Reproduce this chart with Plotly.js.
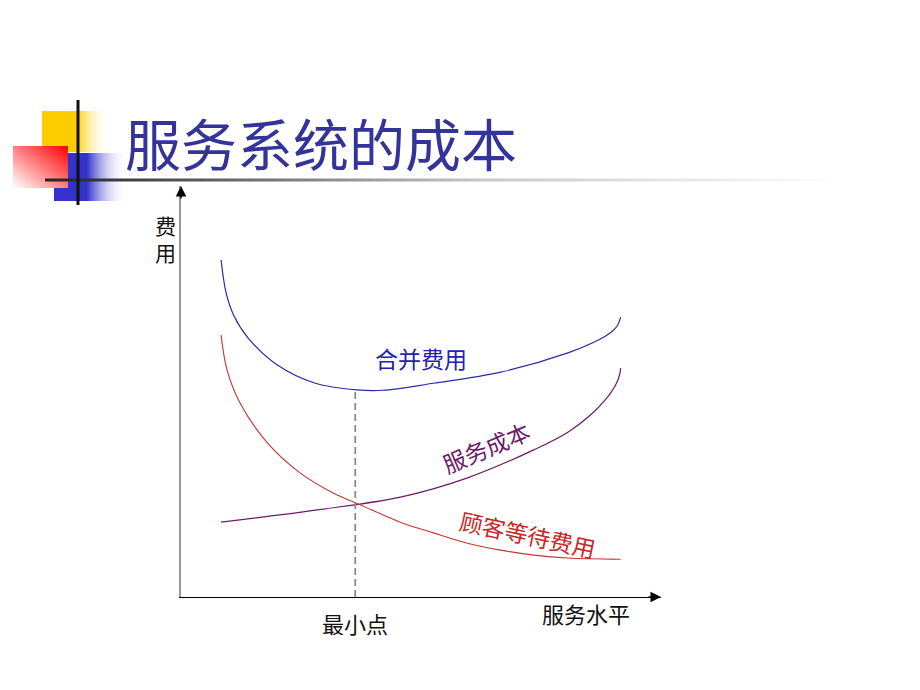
<!DOCTYPE html>
<html>
<head>
<meta charset="utf-8">
<script src="https://cdn.plot.ly/plotly-3.0.1.min.js"></script>
<style>html,body{margin:0;padding:0;background:#fff;}#chart{width:920px;height:690px;}</style>
</head>
<body>
<div id="chart"></div>
<script>
// ---- data (service level on x, cost on y, both 0..100) ----
const titleText = "服务系统的成本";
const yAxisLabel = "费用";
const xAxisLabel = "服务水平";
const minLabel = "最小点";

const totalLabel = "合并费用";
const totalX = [8.35, 9.4, 11.0, 14.0, 20.0, 28.0, 36.7, 42.0, 52.6, 66.6, 80.6, 86.0, 88.3, 89.8, 90.9, 91.6];
const totalY = [82.0, 74.0, 68.5, 63.0, 56.5, 52.0, 50.4, 50.3, 52.0, 54.7, 59.4, 62.0, 63.4, 64.6, 66.0, 68.1];

const serviceLabel = "服务成本";
const serviceX = [8.35, 28.4, 45.7, 59.7, 73.5, 80.6, 86.0, 88.1, 89.6, 90.8, 91.4, 91.6];
const serviceY = [18.2, 21.2, 24.3, 29.0, 35.8, 40.1, 45.0, 47.6, 49.8, 52.2, 54.2, 55.7];

const waitLabel = "顾客等待费用";
const waitX = [8.35, 9.6, 12.3, 18.0, 24.8, 31.7, 37.4, 45.7, 52.6, 59.7, 66.6, 73.5, 80.6, 91.6];
const waitY = [63.7, 55.2, 47.2, 37.5, 30.2, 25.3, 22.4, 18.2, 15.6, 13.1, 11.4, 10.2, 9.5, 9.2];

const minPointX = [36.3, 36.3];
const minPointY = [0, 50.4];

// label anchor positions (data units)
const yLabelPos = [-3.2, 87.3];
const xLabelPos = [84.3, -3.9];
const minLabelPos = [36.3, -6.3];

// ---- decoration (title bar ornament) ----
const svg = `<svg xmlns='http://www.w3.org/2000/svg' width='840' height='115' viewBox='0 95 840 115' preserveAspectRatio='none'>
<defs>
<linearGradient id='gy' x1='0' y1='0' x2='1' y2='0'><stop offset='0' stop-color='#ffcc00'/><stop offset='0.5' stop-color='#ffcc00'/><stop offset='1' stop-color='#ffffff' stop-opacity='0'/></linearGradient>
<linearGradient id='gb' x1='0' y1='0' x2='1' y2='0'><stop offset='0' stop-color='#3333cc'/><stop offset='0.45' stop-color='#3333cc'/><stop offset='1' stop-color='#ffffff' stop-opacity='0'/></linearGradient>
<linearGradient id='gr' x1='0' y1='1' x2='1' y2='0'><stop offset='0' stop-color='#ffffff'/><stop offset='1' stop-color='#ff0000'/></linearGradient>
<linearGradient id='gl' x1='0' y1='0' x2='1' y2='0'><stop offset='0' stop-color='#222222'/><stop offset='0.12' stop-color='#444444'/><stop offset='0.55' stop-color='#c8c8c8'/><stop offset='1' stop-color='#ffffff'/></linearGradient>
</defs>
<rect x='42' y='111' width='68' height='41' fill='url(#gy)'/>
<rect x='54' y='153' width='73' height='48' fill='url(#gb)'/>
<rect x='13' y='146' width='55' height='42' fill='url(#gr)'/>
<rect x='45' y='178.5' width='795' height='3' fill='url(#gl)'/>
<rect x='76.5' y='100' width='3' height='105' fill='#111111'/>
</svg>`;

const W = 920, H = 690;
const xDom = [181 / W, 661 / W];
const yDom = [1 - 597 / H, 1 - 186 / H];
const px = v => xDom[0] + v / 100 * (xDom[1] - xDom[0]);
const py = v => yDom[0] + v / 100 * (yDom[1] - yDom[0]);
const fontCJK = '"Noto Sans CJK SC", "Noto Sans", sans-serif';

const traces = [
  {x: totalX, y: totalY, mode: 'lines', line: {color: '#2b2ba6', width: 1.2, shape: 'spline', smoothing: 1}, hoverinfo: 'skip', name: totalLabel},
  {x: serviceX, y: serviceY, mode: 'lines', line: {color: '#6a1a6a', width: 1.2, shape: 'spline', smoothing: 1}, hoverinfo: 'skip', name: serviceLabel},
  {x: waitX, y: waitY, mode: 'lines', line: {color: '#c83232', width: 1.1, shape: 'spline', smoothing: 1}, hoverinfo: 'skip', name: waitLabel},
  {x: minPointX, y: minPointY, mode: 'lines', line: {color: '#8c8c8c', width: 1.8, dash: '7px,4px'}, hoverinfo: 'skip', name: minLabel}
];

const layout = {
  width: W, height: H,
  margin: {l: 0, r: 0, t: 0, b: 0},
  paper_bgcolor: '#ffffff', plot_bgcolor: '#ffffff',
  showlegend: false,
  font: {family: fontCJK, color: '#111'},
  xaxis: {domain: xDom, range: [0, 100], showline: true, linecolor: '#000', linewidth: 1.3,
          showgrid: false, zeroline: false, showticklabels: false, ticks: '', fixedrange: true},
  yaxis: {domain: yDom, range: [0, 100], showline: true, linecolor: '#999', linewidth: 2,
          showgrid: false, zeroline: false, showticklabels: false, ticks: '', fixedrange: true},
  images: [{
    source: 'data:image/svg+xml;charset=utf-8,' + encodeURIComponent(svg),
    xref: 'paper', yref: 'paper', x: 0, y: 1 - 95 / H, sizex: 840 / W, sizey: 115 / H,
    xanchor: 'left', yanchor: 'top', sizing: 'stretch', layer: 'above'
  }],
  annotations: [
    {text: titleText, xref: 'paper', yref: 'paper', x: 123 / W, y: 1 - 142 / H, xanchor: 'left', yanchor: 'middle',
     showarrow: false, font: {size: 56, color: '#333399', family: fontCJK}},
    // axis arrowheads
    {text: '', xref: 'x', yref: 'y', x: 100, y: 0, ax: -14, ay: 0, showarrow: true, arrowhead: 2, arrowsize: 1.4, arrowwidth: 1.5, arrowcolor: '#000'},
    {text: '', xref: 'x', yref: 'y', x: 0, y: 100, ax: 0, ay: 14, showarrow: true, arrowhead: 2, arrowsize: 1.4, arrowwidth: 1.5, arrowcolor: '#000'},
    // axis labels
    {text: yAxisLabel.split('').join('<br>'), xref: 'paper', yref: 'paper', x: px(yLabelPos[0]), y: py(yLabelPos[1]), showarrow: false,
     font: {size: 21, color: '#111'}, xanchor: 'center', yanchor: 'middle'},
    {text: xAxisLabel, xref: 'paper', yref: 'paper', x: px(xLabelPos[0]), y: py(xLabelPos[1]), showarrow: false,
     font: {size: 22, color: '#111'}, xanchor: 'center', yanchor: 'middle'},
    {text: minLabel, xref: 'paper', yref: 'paper', x: px(minLabelPos[0]), y: py(minLabelPos[1]), showarrow: false,
     font: {size: 22, color: '#111'}, xanchor: 'center', yanchor: 'middle'},
    // curve labels
    {text: totalLabel, xref: 'x', yref: 'y', x: 49.9, y: 58.2, showarrow: false, font: {size: 23, color: '#2222aa'}},
    {text: serviceLabel, xref: 'x', yref: 'y', x: 63.5, y: 36.5, showarrow: false, textangle: -23, font: {size: 23, color: '#6a1a6a'}},
    {text: waitLabel, xref: 'x', yref: 'y', x: 72.2, y: 15.4, showarrow: false, textangle: 12, font: {size: 23, color: '#c82828'}}
  ]
};

Plotly.newPlot('chart', traces, layout, {staticPlot: true, displayModeBar: false});
</script>
</body>
</html>
